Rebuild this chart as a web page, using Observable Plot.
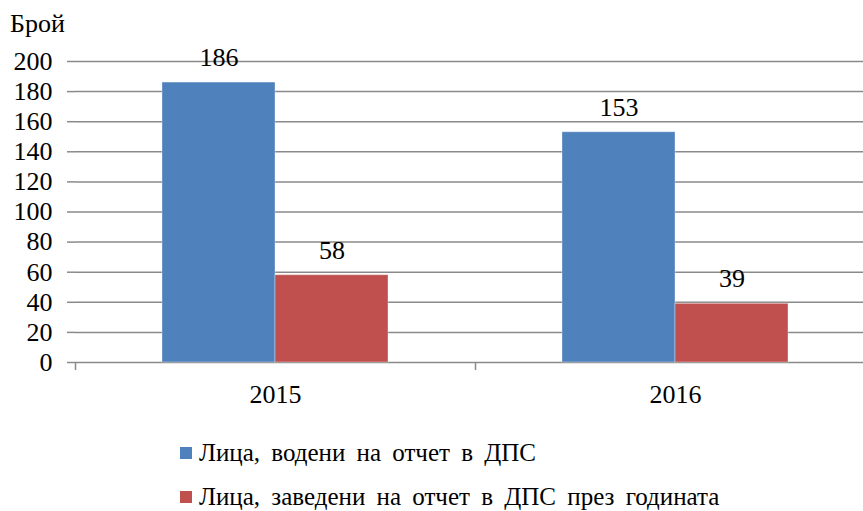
<!DOCTYPE html>
<html>
<head>
<meta charset="utf-8">
<script src="https://cdn.jsdelivr.net/npm/d3@7"></script>
<script src="https://cdn.jsdelivr.net/npm/@observablehq/plot@0.6"></script>
<style>
  html, body { margin: 0; padding: 0; background: #fff; width: 863px; height: 511px; overflow: hidden; }
  body { font-family: "Liberation Serif", "LiberationSerif", Tinos, "Times New Roman", "DejaVu Serif", "Noto Serif", serif; color: #000; }
  #title { height: 40px; box-sizing: border-box; padding: 11px 0 0 10px; font-size: 26px; line-height: 1; }
  #legend { padding: 6px 0 0 180px; font-size: 25px; word-spacing: 5px; }
  .item { height: 44px; line-height: 44px; display: flex; align-items: center; }
  .sw { width: 12px; height: 12px; margin-right: 7px; flex: none; }
  svg { display: block; }
</style>
</head>
<body>
<div id="title">Брой</div>
<div id="chart"></div>
<div id="legend"></div>
<script>
const years = ["2015", "2016"];
const series = ["Лица, водени на отчет в ДПС", "Лица, заведени на отчет в ДПС през годината"];
const vodeni = [186, 153];
const zavedeni = [58, 39];
const yTicks = [0, 20, 40, 60, 80, 100, 120, 140, 160, 180, 200];
const colors = ["#4F81BD", "#C0504D"];
const fontStack = "'Liberation Serif', 'LiberationSerif', Tinos, 'Times New Roman', 'DejaVu Serif', 'Noto Serif', serif";

const data = [];
years.forEach((yr, i) => {
  data.push({year: yr, series: series[0], value: vodeni[i]});
  data.push({year: yr, series: series[1], value: zavedeni[i]});
});

const gridColor = "#8a8a8a";

const chart = Plot.plot({
  width: 863,
  height: 385,
  marginLeft: 75,
  marginRight: -12,
  marginTop: 21,
  marginBottom: 63,
  fx: {domain: years, padding: 0, label: null},
  x: {domain: series, paddingInner: 0, paddingOuter: 0.762, axis: null},
  y: {domain: [0, 200], label: null},
  color: {domain: series, range: colors},
  style: {fontFamily: fontStack, fontSize: "26px", color: "#000", background: "#fff", overflow: "visible"},
  marks: [
    Plot.gridY(yTicks, {stroke: gridColor, strokeOpacity: 1, strokeWidth: 1.5}),
    Plot.barY(data, {fx: "year", x: "series", y: "value", fill: "series", stroke: "#ffffff", strokeOpacity: 0.35, strokeWidth: 1}),
    Plot.text(data, {fx: "year", x: "series", y: "value", text: d => String(d.value), dy: -25, fontSize: 26, fill: "#000"}),
    Plot.ruleX([years[0]], {fx: d => d, dx: -200, stroke: gridColor, strokeWidth: 1.5}),
    Plot.axisY({ticks: yTicks, tickSize: 8, tickPadding: 15, stroke: gridColor, strokeWidth: 1.5, fontSize: 26, fill: "#000", label: null}),
    Plot.axisFx({anchor: "bottom", tickSize: 8, dx: -200, tickFormat: () => "", stroke: gridColor, strokeWidth: 1.5, label: null}),
    Plot.axisFx({anchor: "bottom", tickSize: 0, tickPadding: 22, fontSize: 26, fill: "#000", label: null})
  ]
});
document.getElementById("chart").appendChild(chart);

const legend = document.getElementById("legend");
series.forEach((s, i) => {
  const item = document.createElement("div");
  item.className = "item";
  const sw = document.createElement("span");
  sw.className = "sw";
  sw.style.background = colors[i];
  const t = document.createElement("span");
  t.textContent = s;
  item.appendChild(sw);
  item.appendChild(t);
  legend.appendChild(item);
});
</script>
</body>
</html>
